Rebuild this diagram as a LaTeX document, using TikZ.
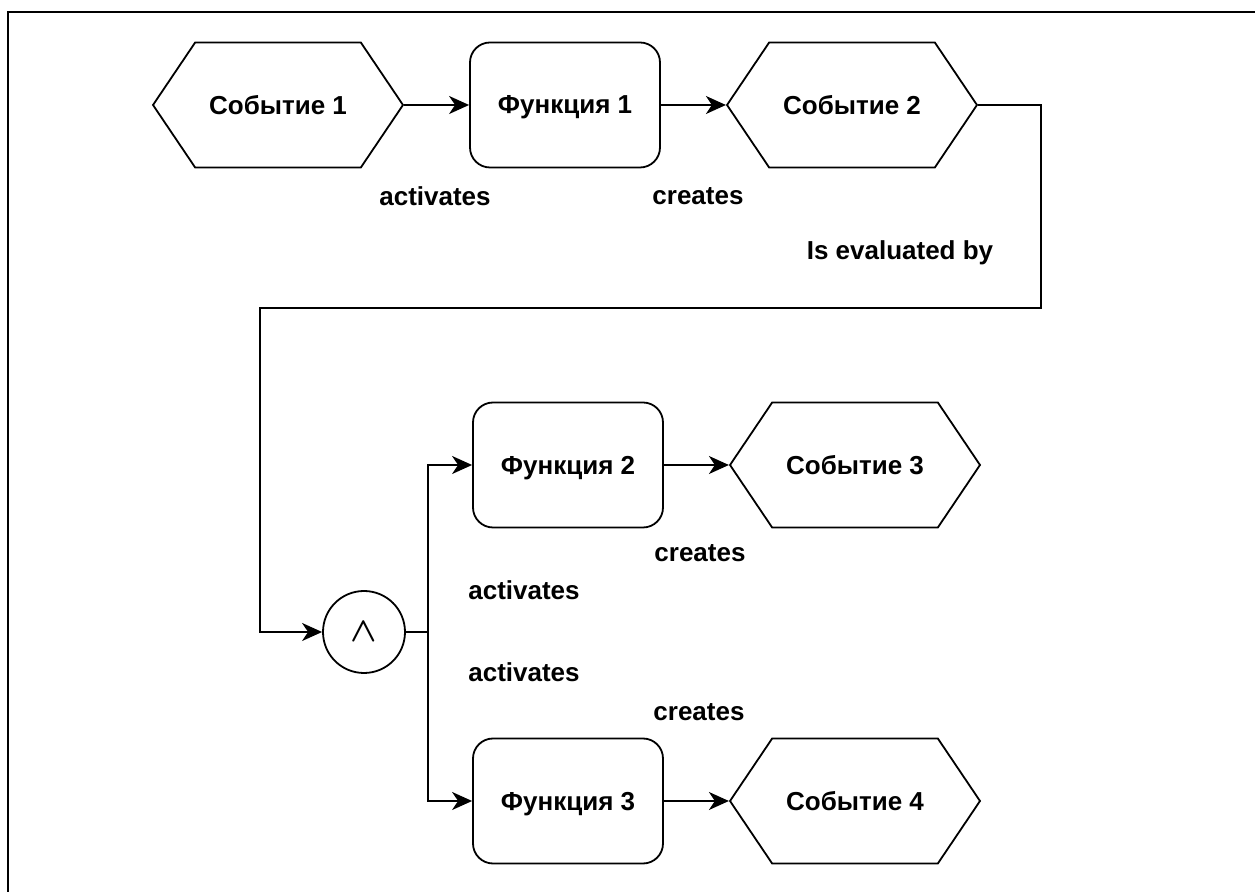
\documentclass[tikz,border=0pt]{standalone}
\usepackage{amsmath}
\usepackage{fontspec}
\setmainfont{Liberation Sans}
\usetikzlibrary{shapes.symbols,arrows.meta}

\begin{document}
\begin{tikzpicture}[x=0.5pt,y=-0.5pt,>={Stealth[length=10pt,width=9pt,inset=3pt]},line width=0.9pt,node distance=143.5pt,
    font=\fontsize{13}{15}\selectfont\bfseries,
    event node/.style={signal,signal to=west and east,signal pointer angle=112,draw,minimum width=125pt,minimum height=62.5pt,inner sep=0pt,text depth=0pt},
    func node/.style={rectangle,rounded corners=10pt,draw,minimum width=95pt,minimum height=62.5pt,text depth=0pt},
    and node/.style={circle,draw,minimum size=41pt,inner sep=0pt,font=\fontsize{19}{21}\selectfont},
    rel text/.style={inner sep=0pt}]

            \useasboundingbox (0,0) rectangle (1255,892);
            \draw[line width=0.8pt] (1255,12) -- (8,12) -- (8,892);

            \node[event node] (e1) at (278,105) {Событие 1};
            \node[func node] (f1) [right of = e1] {Функция 1};
            \node[event node] (e2) [right of = f1] {Событие 2};
            \node[and node] (andg) at (364,632) {$\boldsymbol{\wedge}$};
            \node[func node] (f2) at (568,465) {Функция 2};
            \node[event node] (e3) [right of = f2] {Событие 3};
            \node[func node] (f3) [below of = f2, node distance=168pt] {Функция 3};
            \node[event node] (e4) [right of = f3] {Событие 4};

            \node[rel text] (t1) at (435,196) {activates};
            \node[rel text] (t2) at (698,196) {creates};
            \node[rel text] (t3) at (900,253) {Is evaluated by};
            \node[rel text] (t4) at (700,553) {creates};
            \node[rel text] (t5) at (524,590) {activates};
            \node[rel text] (t6) at (524,672) {activates};
            \node[rel text] (t7) at (699,712) {creates};

            \coordinate (c1) at (1041,308);
            \coordinate (c2) at (260,308);
            \coordinate (bus) at (428,632);

            \draw[->] (e1) to (f1);
            \draw[->] (f1) to (e2);
            \draw[->] (e2.east) -| (c1) -- (c2) |- (andg.west);
            \draw[-] (andg.east) -- (bus);
            \draw[->] (bus) |- (f2.west);
            \draw[->] (bus) |- (f3.west);
            \draw[->] (f2) to (e3);
            \draw[->] (f3) to (e4);

            ;
\end{tikzpicture}
\end{document}
